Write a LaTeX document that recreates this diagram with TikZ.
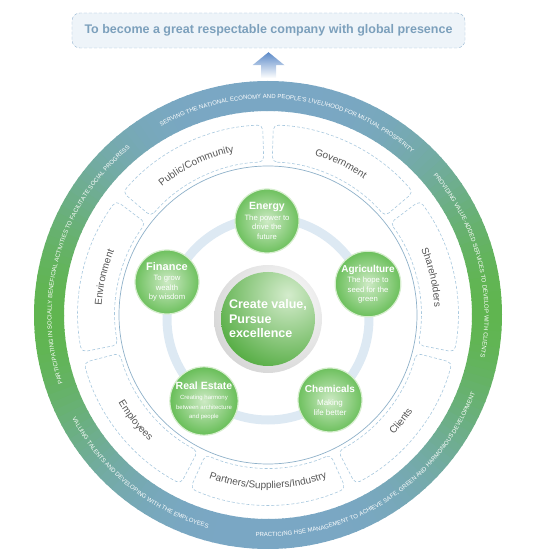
\documentclass[tikz,border=0pt]{standalone}
\usepackage{fontspec}
\setmainfont{Liberation Sans}
\usetikzlibrary{decorations.text}
\tikzset{>=latex}
\definecolor{bandblue}{RGB}{122,167,196}
\definecolor{bandgreen}{RGB}{96,181,80}
\definecolor{goalblue}{RGB}{124,160,188}
\definecolor{goalfill}{RGB}{238,244,249}
\definecolor{goalline}{RGB}{150,182,210}
\definecolor{holdline}{RGB}{168,200,222}
\definecolor{holdgray}{RGB}{85,85,85}
\definecolor{ringblue}{RGB}{143,177,201}
\definecolor{paleblue}{RGB}{221,233,243}
\definecolor{leafdark}{RGB}{84,172,66}
\definecolor{leaflight}{RGB}{212,236,204}
\definecolor{bizedge}{RGB}{104,190,88}
\definecolor{bizlight}{RGB}{205,234,196}
\definecolor{bizrim}{RGB}{214,238,206}
\definecolor{arrowblue}{RGB}{92,138,200}
\newcommand{\bandfont}{\fontsize{6}{7}\selectfont}
\newcommand{\holdfont}{\fontsize{10}{12}\selectfont}

\begin{document}
\begin{tikzpicture}[x=1pt, y=1pt,
    bandtext/.style={decorate, decoration={text along path, text align=center, text color=white, text={|\bandfont|#1}}},
    holdtext/.style={decorate, decoration={text along path, text align=center, text color=holdgray, text={|\holdfont|#1}}},
    holder/.style={draw=holdline, densely dashed, line width=0.6pt, rounded corners=5pt},
    goal/.style={draw=goalline, densely dashed, fill=goalfill, rounded corners=8pt, minimum width=393pt, minimum height=35pt, text=goalblue, font=\bfseries\fontsize{12.5}{14}\selectfont},
    core/.style={circle, minimum size=94pt, inner sep=0pt, align=left, text=white, font=\bfseries\fontsize{12.5}{14.5}\selectfont,
        path picture={\shade[inner color=leaflight, outer color=leafdark] ([shift={(20,24)}]path picture bounding box.center) circle[radius=80pt];}},
    biz/.style={circle, minimum size=64pt, inner sep=0pt, align=center, text=white, draw=bizrim, line width=1.2pt, font=\fontsize{7.7}{9.5}\selectfont,
        path picture={\shade[inner color=bizlight, outer color=bizedge] (path picture bounding box.center) circle[radius=34pt];}},
    ]
    \useasboundingbox (-268,-238) rectangle (264,315);

    % outer band, green at the sides, blue at top and bottom
    \foreach \a in {0,2,...,358} {
        \pgfmathsetmacro\g{100*(cos(\a)*cos(\a))^2}
        \colorlet{bandc}{bandgreen!\g!bandblue}
        \fill[bandc] (\a:204) arc[start angle=\a, end angle=\a+2.4, radius=204pt] -- ({\a+2.4}:234) arc[start angle=\a+2.4, end angle=\a, radius=234pt] -- cycle;
    }
    \path[bandtext={SERVING THE NATIONAL ECONOMY AND PEOPLE'S LIVELIHOOD FOR MUTUAL PROSPERITY}] (130:216.5) arc[start angle=130, end angle=38, radius=216.5pt];
    \path[bandtext={PROVIDING VALUE-ADDED SERVICES TO DEVELOP WITH CLIENTS}] (52:216.5) arc[start angle=52, end angle=-23, radius=216.5pt];
    \path[bandtext={PRACTICING HSE MANAGEMENT TO ACHIEVE SAFE, GREEN AND HARMONIOUS DEVELOPMENT}] (-106:221.5) arc[start angle=-106, end angle=-8, radius=221.5pt];
    \path[bandtext={VALUING TALENTS AND DEVELOPING WITH THE EMPLOYEES}] (196:221.5) arc[start angle=196, end angle=266, radius=221.5pt];
    \path[bandtext={PARTICIPATING IN SOCIALLY BENEFICIAL ACTIVITIES TO FACILITATE SOCIAL PROGRESS}] (210:216.5) arc[start angle=210, end angle=118, radius=216.5pt];

    % stakeholders
    \foreach \k in {0,...,6} {
        \pgfmathsetmacro\p{90-\k*360/7-1.6}
        \pgfmathsetmacro\q{90-(\k+1)*360/7+1.6}
        \draw[holder] (\p:153) arc[start angle=\p, end angle=\q, radius=153pt] -- (\q:190) arc[start angle=\q, end angle=\p, radius=190pt] -- cycle;
    }
    \path[holdtext={Public/Community}] (139.7:166.5) arc[start angle=139.7, end angle=91.7, radius=166.5pt];
    \path[holdtext={Government}] (88.3:166.5) arc[start angle=88.3, end angle=40.3, radius=166.5pt];
    \path[holdtext={Shareholders}] (36.9:166.5) arc[start angle=36.9, end angle=-11.1, radius=166.5pt];
    \path[holdtext={Clients}] (-62.6:173.5) arc[start angle=-62.6, end angle=-14.6, radius=173.5pt];
    \path[holdtext={Partners/Suppliers/Industry}] (-116:173.5) arc[start angle=-116, end angle=-64, radius=173.5pt];
    \path[holdtext={Employees}] (-165.4:173.5) arc[start angle=-165.4, end angle=-117.4, radius=173.5pt];
    \path[holdtext={Environment}] (191.1:166.5) arc[start angle=191.1, end angle=143.1, radius=166.5pt];

    \draw[ringblue, line width=0.7pt] (0,0) circle[radius=149pt];

    % businesses round the core
    \begin{scope}[shift={(0,-4)}]
        \draw[paleblue, line width=9pt] (0,0) circle[radius=101pt];
        \begin{scope}
            \clip (0,0) circle[radius=54pt];
            \shade[inner color=white, outer color=black!18] (15,15) circle[radius=85pt];
        \end{scope}
        \node[core] (core) at (0,0) {Create value,\\Pursue\\excellence};
        \node[biz] (energy) at (-1,98) {\textbf{\fontsize{10.5}{12}\selectfont Energy}\\[1pt]The power to\\drive the\\future};
        \node[biz] (finance) at (-101,37) {\textbf{\fontsize{11}{12}\selectfont Finance}\\[1pt]To grow\\wealth\\by wisdom};
        \node[biz] (agri) at (100,35) {\textbf{\fontsize{10}{12}\selectfont Agriculture}\\[1pt]The hope to\\seed for the\\green};
        \node[biz] (estate) at (-64,-82) {\textbf{\fontsize{10.5}{12}\selectfont Real Estate}\\[1pt]{\fontsize{6}{7.5}\selectfont Creating harmony}\\{\fontsize{6}{7.5}\selectfont between architecture}\\{\fontsize{6}{7.5}\selectfont and people}};
        \node[biz] (chem) at (62,-81) {\textbf{\fontsize{10}{12}\selectfont Chemicals}\\[4pt]{\fontsize{8}{10}\selectfont Making}\\{\fontsize{8}{10}\selectfont life better}};
    \end{scope}

    % goal on top
    \node[goal] (goal) at (0.5,284.5) {To become a great respectable company with global presence};
    \shade[top color=arrowblue, bottom color=white] ([yshift=-4pt]goal.south) -- ++(16,-13) -- ++(-8.5,0) -- ++(0,-13) -- ++(-15,0) -- ++(0,13) -- ++(-8.5,0) -- cycle;
\end{tikzpicture}
\end{document}
